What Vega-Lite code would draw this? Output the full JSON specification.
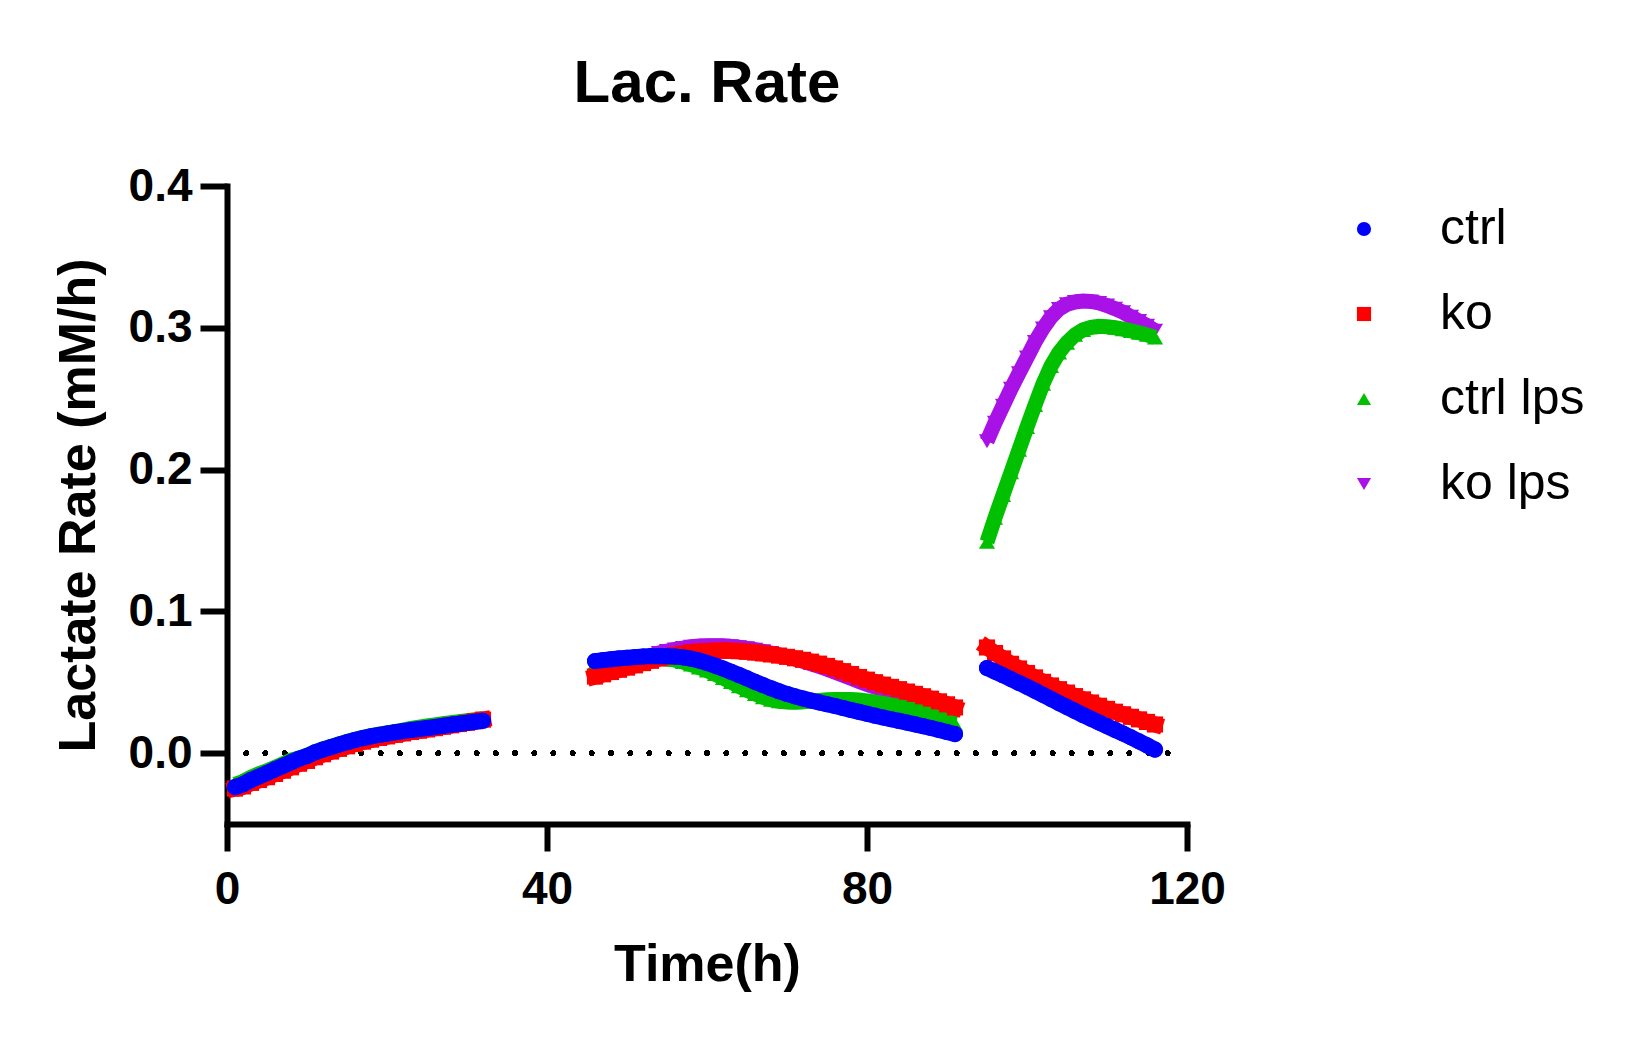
{
"$schema":"https://vega.github.io/schema/vega-lite/v6.json",
"autosize":"none",
"width":960,"height":638,
"padding":{"left":227,"top":186,"right":453,"bottom":214},
"background":"white",
"title":{"text":"Lac. Rate","fontSize":60,"font":"Liberation Sans","fontWeight":"bold","anchor":"middle","frame":"group","baseline":"alphabetic","offset":1,"color":"black"},
"config":{"view":{"stroke":null},"font":"Liberation Sans",
"axis":{"grid":false,"domainColor":"black","tickColor":"black","labelColor":"black","titleColor":"black","domainWidth":6,"tickWidth":6,"tickSize":27,"domainCap":"square","labelFont":"Liberation Sans","labelFontSize":46,"labelFontWeight":"bold","titleFont":"Liberation Sans","titleFontSize":52,"titleFontWeight":"bold","labelOverlap":false,"labelFlush":false},
"legend":{"labelFont":"Liberation Sans","labelFontSize":50,"labelFontWeight":"normal","labelColor":"black","symbolSize":200,"rowPadding":35,"labelOffset":51,"padding":0}},
"data":{"values":[
{"g":"ko lps","s":1,"t":1,"v":-0.0258},{"g":"ko lps","s":1,"t":2,"v":-0.0242},{"g":"ko lps","s":1,"t":3,"v":-0.0217},{"g":"ko lps","s":1,"t":4,"v":-0.0196},{"g":"ko lps","s":1,"t":5,"v":-0.0175},{"g":"ko lps","s":1,"t":6,"v":-0.0152},{"g":"ko lps","s":1,"t":7,"v":-0.0129},{"g":"ko lps","s":1,"t":8,"v":-0.0105},{"g":"ko lps","s":1,"t":9,"v":-0.008},{"g":"ko lps","s":1,"t":10,"v":-0.006},{"g":"ko lps","s":1,"t":11,"v":-0.0034},{"g":"ko lps","s":1,"t":12,"v":-0.0013},{"g":"ko lps","s":1,"t":13,"v":0.0006},{"g":"ko lps","s":1,"t":14,"v":0.0025},{"g":"ko lps","s":1,"t":15,"v":0.0043},{"g":"ko lps","s":1,"t":16,"v":0.006},{"g":"ko lps","s":1,"t":17,"v":0.0076},{"g":"ko lps","s":1,"t":18,"v":0.009},{"g":"ko lps","s":1,"t":19,"v":0.0102},{"g":"ko lps","s":1,"t":20,"v":0.0113},{"g":"ko lps","s":1,"t":21,"v":0.0124},{"g":"ko lps","s":1,"t":22,"v":0.0134},{"g":"ko lps","s":1,"t":23,"v":0.0144},{"g":"ko lps","s":1,"t":24,"v":0.0153},{"g":"ko lps","s":1,"t":25,"v":0.0162},{"g":"ko lps","s":1,"t":26,"v":0.0171},{"g":"ko lps","s":1,"t":27,"v":0.0181},{"g":"ko lps","s":1,"t":28,"v":0.0191},{"g":"ko lps","s":1,"t":29,"v":0.02},{"g":"ko lps","s":1,"t":30,"v":0.0209},{"g":"ko lps","s":1,"t":31,"v":0.022},{"g":"ko lps","s":1,"t":32,"v":0.0231},
{"g":"ko lps","s":2,"t":46,"v":0.053},{"g":"ko lps","s":2,"t":47,"v":0.0554},{"g":"ko lps","s":2,"t":48,"v":0.0577},{"g":"ko lps","s":2,"t":49,"v":0.06},{"g":"ko lps","s":2,"t":50,"v":0.0623},{"g":"ko lps","s":2,"t":51,"v":0.0644},{"g":"ko lps","s":2,"t":52,"v":0.0665},{"g":"ko lps","s":2,"t":53,"v":0.0686},{"g":"ko lps","s":2,"t":54,"v":0.0707},{"g":"ko lps","s":2,"t":55,"v":0.072},{"g":"ko lps","s":2,"t":56,"v":0.0731},{"g":"ko lps","s":2,"t":57,"v":0.0741},{"g":"ko lps","s":2,"t":58,"v":0.075},{"g":"ko lps","s":2,"t":59,"v":0.0756},{"g":"ko lps","s":2,"t":60,"v":0.0758},{"g":"ko lps","s":2,"t":61,"v":0.0758},{"g":"ko lps","s":2,"t":62,"v":0.0758},{"g":"ko lps","s":2,"t":63,"v":0.0753},{"g":"ko lps","s":2,"t":64,"v":0.0747},{"g":"ko lps","s":2,"t":65,"v":0.0739},{"g":"ko lps","s":2,"t":66,"v":0.0729},{"g":"ko lps","s":2,"t":67,"v":0.0718},{"g":"ko lps","s":2,"t":68,"v":0.0706},{"g":"ko lps","s":2,"t":69,"v":0.0693},{"g":"ko lps","s":2,"t":70,"v":0.0679},{"g":"ko lps","s":2,"t":71,"v":0.0664},{"g":"ko lps","s":2,"t":72,"v":0.0648},{"g":"ko lps","s":2,"t":73,"v":0.063},{"g":"ko lps","s":2,"t":74,"v":0.0611},{"g":"ko lps","s":2,"t":75,"v":0.0592},{"g":"ko lps","s":2,"t":76,"v":0.0571},{"g":"ko lps","s":2,"t":77,"v":0.055},{"g":"ko lps","s":2,"t":78,"v":0.0528},{"g":"ko lps","s":2,"t":79,"v":0.0505},{"g":"ko lps","s":2,"t":80,"v":0.0485},{"g":"ko lps","s":2,"t":81,"v":0.0466},{"g":"ko lps","s":2,"t":82,"v":0.0448},{"g":"ko lps","s":2,"t":83,"v":0.0432},{"g":"ko lps","s":2,"t":84,"v":0.0416},{"g":"ko lps","s":2,"t":85,"v":0.0399},{"g":"ko lps","s":2,"t":86,"v":0.0383},{"g":"ko lps","s":2,"t":87,"v":0.0365},{"g":"ko lps","s":2,"t":88,"v":0.0347},{"g":"ko lps","s":2,"t":89,"v":0.0327},{"g":"ko lps","s":2,"t":90,"v":0.0305},{"g":"ko lps","s":2,"t":91,"v":0.0282},
{"g":"ko lps","s":3,"t":95,"v":0.22},{"g":"ko lps","s":3,"t":96,"v":0.233},{"g":"ko lps","s":3,"t":97,"v":0.245},{"g":"ko lps","s":3,"t":98,"v":0.257},{"g":"ko lps","s":3,"t":99,"v":0.268},{"g":"ko lps","s":3,"t":100,"v":0.279},{"g":"ko lps","s":3,"t":101,"v":0.29},{"g":"ko lps","s":3,"t":102,"v":0.2995},{"g":"ko lps","s":3,"t":103,"v":0.3075},{"g":"ko lps","s":3,"t":104,"v":0.3132},{"g":"ko lps","s":3,"t":105,"v":0.3166},{"g":"ko lps","s":3,"t":106,"v":0.3182},{"g":"ko lps","s":3,"t":107,"v":0.3188},{"g":"ko lps","s":3,"t":108,"v":0.3186},{"g":"ko lps","s":3,"t":109,"v":0.3175},{"g":"ko lps","s":3,"t":110,"v":0.3157},{"g":"ko lps","s":3,"t":111,"v":0.3135},{"g":"ko lps","s":3,"t":112,"v":0.311},{"g":"ko lps","s":3,"t":113,"v":0.3078},{"g":"ko lps","s":3,"t":114,"v":0.3048},{"g":"ko lps","s":3,"t":115,"v":0.3015},{"g":"ko lps","s":3,"t":116,"v":0.298},
{"g":"ctrl lps","s":1,"t":1,"v":-0.022},{"g":"ctrl lps","s":1,"t":2,"v":-0.02},{"g":"ctrl lps","s":1,"t":3,"v":-0.017},{"g":"ctrl lps","s":1,"t":4,"v":-0.0145},{"g":"ctrl lps","s":1,"t":5,"v":-0.0125},{"g":"ctrl lps","s":1,"t":6,"v":-0.01},{"g":"ctrl lps","s":1,"t":7,"v":-0.0075},{"g":"ctrl lps","s":1,"t":8,"v":-0.005},{"g":"ctrl lps","s":1,"t":9,"v":-0.0035},{"g":"ctrl lps","s":1,"t":10,"v":-0.0015},{"g":"ctrl lps","s":1,"t":11,"v":0.001},{"g":"ctrl lps","s":1,"t":12,"v":0.003},{"g":"ctrl lps","s":1,"t":13,"v":0.0048},{"g":"ctrl lps","s":1,"t":14,"v":0.0065},{"g":"ctrl lps","s":1,"t":15,"v":0.0082},{"g":"ctrl lps","s":1,"t":16,"v":0.0097},{"g":"ctrl lps","s":1,"t":17,"v":0.0111},{"g":"ctrl lps","s":1,"t":18,"v":0.0123},{"g":"ctrl lps","s":1,"t":19,"v":0.0133},{"g":"ctrl lps","s":1,"t":20,"v":0.0143},{"g":"ctrl lps","s":1,"t":21,"v":0.0152},{"g":"ctrl lps","s":1,"t":22,"v":0.0162},{"g":"ctrl lps","s":1,"t":23,"v":0.0175},{"g":"ctrl lps","s":1,"t":24,"v":0.0183},{"g":"ctrl lps","s":1,"t":25,"v":0.0191},{"g":"ctrl lps","s":1,"t":26,"v":0.0199},{"g":"ctrl lps","s":1,"t":27,"v":0.0207},{"g":"ctrl lps","s":1,"t":28,"v":0.0215},{"g":"ctrl lps","s":1,"t":29,"v":0.0222},{"g":"ctrl lps","s":1,"t":30,"v":0.0229},{"g":"ctrl lps","s":1,"t":31,"v":0.0236},{"g":"ctrl lps","s":1,"t":32,"v":0.0243},
{"g":"ctrl lps","s":2,"t":46,"v":0.063},{"g":"ctrl lps","s":2,"t":47,"v":0.0638},{"g":"ctrl lps","s":2,"t":48,"v":0.0645},{"g":"ctrl lps","s":2,"t":49,"v":0.0652},{"g":"ctrl lps","s":2,"t":50,"v":0.0658},{"g":"ctrl lps","s":2,"t":51,"v":0.0663},{"g":"ctrl lps","s":2,"t":52,"v":0.0667},{"g":"ctrl lps","s":2,"t":53,"v":0.0669},{"g":"ctrl lps","s":2,"t":54,"v":0.0669},{"g":"ctrl lps","s":2,"t":55,"v":0.0665},{"g":"ctrl lps","s":2,"t":56,"v":0.0656},{"g":"ctrl lps","s":2,"t":57,"v":0.0642},{"g":"ctrl lps","s":2,"t":58,"v":0.0624},{"g":"ctrl lps","s":2,"t":59,"v":0.0604},{"g":"ctrl lps","s":2,"t":60,"v":0.0582},{"g":"ctrl lps","s":2,"t":61,"v":0.0557},{"g":"ctrl lps","s":2,"t":62,"v":0.053},{"g":"ctrl lps","s":2,"t":63,"v":0.0501},{"g":"ctrl lps","s":2,"t":64,"v":0.0471},{"g":"ctrl lps","s":2,"t":65,"v":0.0443},{"g":"ctrl lps","s":2,"t":66,"v":0.0417},{"g":"ctrl lps","s":2,"t":67,"v":0.0394},{"g":"ctrl lps","s":2,"t":68,"v":0.0377},{"g":"ctrl lps","s":2,"t":69,"v":0.0366},{"g":"ctrl lps","s":2,"t":70,"v":0.036},{"g":"ctrl lps","s":2,"t":71,"v":0.0359},{"g":"ctrl lps","s":2,"t":72,"v":0.0362},{"g":"ctrl lps","s":2,"t":73,"v":0.0367},{"g":"ctrl lps","s":2,"t":74,"v":0.0372},{"g":"ctrl lps","s":2,"t":75,"v":0.0376},{"g":"ctrl lps","s":2,"t":76,"v":0.0378},{"g":"ctrl lps","s":2,"t":77,"v":0.0379},{"g":"ctrl lps","s":2,"t":78,"v":0.0378},{"g":"ctrl lps","s":2,"t":79,"v":0.0374},{"g":"ctrl lps","s":2,"t":80,"v":0.0368},{"g":"ctrl lps","s":2,"t":81,"v":0.036},{"g":"ctrl lps","s":2,"t":82,"v":0.0351},{"g":"ctrl lps","s":2,"t":83,"v":0.0341},{"g":"ctrl lps","s":2,"t":84,"v":0.033},{"g":"ctrl lps","s":2,"t":85,"v":0.0318},{"g":"ctrl lps","s":2,"t":86,"v":0.0305},{"g":"ctrl lps","s":2,"t":87,"v":0.029},{"g":"ctrl lps","s":2,"t":88,"v":0.0272},{"g":"ctrl lps","s":2,"t":89,"v":0.0252},{"g":"ctrl lps","s":2,"t":90,"v":0.0229},{"g":"ctrl lps","s":2,"t":91,"v":0.0205},
{"g":"ctrl lps","s":3,"t":95,"v":0.149},{"g":"ctrl lps","s":3,"t":96,"v":0.166},{"g":"ctrl lps","s":3,"t":97,"v":0.182},{"g":"ctrl lps","s":3,"t":98,"v":0.198},{"g":"ctrl lps","s":3,"t":99,"v":0.214},{"g":"ctrl lps","s":3,"t":100,"v":0.23},{"g":"ctrl lps","s":3,"t":101,"v":0.2455},{"g":"ctrl lps","s":3,"t":102,"v":0.2605},{"g":"ctrl lps","s":3,"t":103,"v":0.273},{"g":"ctrl lps","s":3,"t":104,"v":0.2825},{"g":"ctrl lps","s":3,"t":105,"v":0.2895},{"g":"ctrl lps","s":3,"t":106,"v":0.295},{"g":"ctrl lps","s":3,"t":107,"v":0.2985},{"g":"ctrl lps","s":3,"t":108,"v":0.3003},{"g":"ctrl lps","s":3,"t":109,"v":0.301},{"g":"ctrl lps","s":3,"t":110,"v":0.3008},{"g":"ctrl lps","s":3,"t":111,"v":0.3},{"g":"ctrl lps","s":3,"t":112,"v":0.299},{"g":"ctrl lps","s":3,"t":113,"v":0.2978},{"g":"ctrl lps","s":3,"t":114,"v":0.2965},{"g":"ctrl lps","s":3,"t":115,"v":0.295},{"g":"ctrl lps","s":3,"t":116,"v":0.2932},
{"g":"ko","s":1,"t":1,"v":-0.025},{"g":"ko","s":1,"t":2,"v":-0.0235},{"g":"ko","s":1,"t":3,"v":-0.021},{"g":"ko","s":1,"t":4,"v":-0.019},{"g":"ko","s":1,"t":5,"v":-0.017},{"g":"ko","s":1,"t":6,"v":-0.0147},{"g":"ko","s":1,"t":7,"v":-0.0124},{"g":"ko","s":1,"t":8,"v":-0.01},{"g":"ko","s":1,"t":9,"v":-0.0075},{"g":"ko","s":1,"t":10,"v":-0.0055},{"g":"ko","s":1,"t":11,"v":-0.0029},{"g":"ko","s":1,"t":12,"v":-0.0008},{"g":"ko","s":1,"t":13,"v":0.0011},{"g":"ko","s":1,"t":14,"v":0.003},{"g":"ko","s":1,"t":15,"v":0.0048},{"g":"ko","s":1,"t":16,"v":0.0065},{"g":"ko","s":1,"t":17,"v":0.0081},{"g":"ko","s":1,"t":18,"v":0.0095},{"g":"ko","s":1,"t":19,"v":0.0107},{"g":"ko","s":1,"t":20,"v":0.0118},{"g":"ko","s":1,"t":21,"v":0.0129},{"g":"ko","s":1,"t":22,"v":0.0139},{"g":"ko","s":1,"t":23,"v":0.0149},{"g":"ko","s":1,"t":24,"v":0.0158},{"g":"ko","s":1,"t":25,"v":0.0167},{"g":"ko","s":1,"t":26,"v":0.0176},{"g":"ko","s":1,"t":27,"v":0.0186},{"g":"ko","s":1,"t":28,"v":0.0196},{"g":"ko","s":1,"t":29,"v":0.0205},{"g":"ko","s":1,"t":30,"v":0.0214},{"g":"ko","s":1,"t":31,"v":0.0225},{"g":"ko","s":1,"t":32,"v":0.0236},
{"g":"ko","s":2,"t":46,"v":0.054},{"g":"ko","s":2,"t":47,"v":0.0556},{"g":"ko","s":2,"t":48,"v":0.0572},{"g":"ko","s":2,"t":49,"v":0.0588},{"g":"ko","s":2,"t":50,"v":0.0603},{"g":"ko","s":2,"t":51,"v":0.0619},{"g":"ko","s":2,"t":52,"v":0.0635},{"g":"ko","s":2,"t":53,"v":0.0651},{"g":"ko","s":2,"t":54,"v":0.0667},{"g":"ko","s":2,"t":55,"v":0.068},{"g":"ko","s":2,"t":56,"v":0.0691},{"g":"ko","s":2,"t":57,"v":0.0701},{"g":"ko","s":2,"t":58,"v":0.071},{"g":"ko","s":2,"t":59,"v":0.0716},{"g":"ko","s":2,"t":60,"v":0.072},{"g":"ko","s":2,"t":61,"v":0.0722},{"g":"ko","s":2,"t":62,"v":0.0723},{"g":"ko","s":2,"t":63,"v":0.0722},{"g":"ko","s":2,"t":64,"v":0.0719},{"g":"ko","s":2,"t":65,"v":0.0715},{"g":"ko","s":2,"t":66,"v":0.0709},{"g":"ko","s":2,"t":67,"v":0.0703},{"g":"ko","s":2,"t":68,"v":0.0696},{"g":"ko","s":2,"t":69,"v":0.0688},{"g":"ko","s":2,"t":70,"v":0.0679},{"g":"ko","s":2,"t":71,"v":0.0669},{"g":"ko","s":2,"t":72,"v":0.0658},{"g":"ko","s":2,"t":73,"v":0.0645},{"g":"ko","s":2,"t":74,"v":0.0631},{"g":"ko","s":2,"t":75,"v":0.0615},{"g":"ko","s":2,"t":76,"v":0.0597},{"g":"ko","s":2,"t":77,"v":0.0578},{"g":"ko","s":2,"t":78,"v":0.0558},{"g":"ko","s":2,"t":79,"v":0.0537},{"g":"ko","s":2,"t":80,"v":0.0518},{"g":"ko","s":2,"t":81,"v":0.05},{"g":"ko","s":2,"t":82,"v":0.0483},{"g":"ko","s":2,"t":83,"v":0.0467},{"g":"ko","s":2,"t":84,"v":0.0451},{"g":"ko","s":2,"t":85,"v":0.0434},{"g":"ko","s":2,"t":86,"v":0.0418},{"g":"ko","s":2,"t":87,"v":0.0401},{"g":"ko","s":2,"t":88,"v":0.0384},{"g":"ko","s":2,"t":89,"v":0.0365},{"g":"ko","s":2,"t":90,"v":0.0344},{"g":"ko","s":2,"t":91,"v":0.0322},
{"g":"ko","s":3,"t":95,"v":0.0745},{"g":"ko","s":3,"t":96,"v":0.0706},{"g":"ko","s":3,"t":97,"v":0.0668},{"g":"ko","s":3,"t":98,"v":0.063},{"g":"ko","s":3,"t":99,"v":0.0597},{"g":"ko","s":3,"t":100,"v":0.0565},{"g":"ko","s":3,"t":101,"v":0.0534},{"g":"ko","s":3,"t":102,"v":0.0503},{"g":"ko","s":3,"t":103,"v":0.0477},{"g":"ko","s":3,"t":104,"v":0.0451},{"g":"ko","s":3,"t":105,"v":0.0427},{"g":"ko","s":3,"t":106,"v":0.0402},{"g":"ko","s":3,"t":107,"v":0.0379},{"g":"ko","s":3,"t":108,"v":0.0357},{"g":"ko","s":3,"t":109,"v":0.0334},{"g":"ko","s":3,"t":110,"v":0.0312},{"g":"ko","s":3,"t":111,"v":0.0292},{"g":"ko","s":3,"t":112,"v":0.0274},{"g":"ko","s":3,"t":113,"v":0.0256},{"g":"ko","s":3,"t":114,"v":0.0238},{"g":"ko","s":3,"t":115,"v":0.022},{"g":"ko","s":3,"t":116,"v":0.0202},
{"g":"ctrl","s":1,"t":1,"v":-0.024},{"g":"ctrl","s":1,"t":2,"v":-0.022},{"g":"ctrl","s":1,"t":3,"v":-0.019},{"g":"ctrl","s":1,"t":4,"v":-0.0165},{"g":"ctrl","s":1,"t":5,"v":-0.014},{"g":"ctrl","s":1,"t":6,"v":-0.0115},{"g":"ctrl","s":1,"t":7,"v":-0.009},{"g":"ctrl","s":1,"t":8,"v":-0.0065},{"g":"ctrl","s":1,"t":9,"v":-0.004},{"g":"ctrl","s":1,"t":10,"v":-0.002},{"g":"ctrl","s":1,"t":11,"v":0.0005},{"g":"ctrl","s":1,"t":12,"v":0.0025},{"g":"ctrl","s":1,"t":13,"v":0.0043},{"g":"ctrl","s":1,"t":14,"v":0.006},{"g":"ctrl","s":1,"t":15,"v":0.0077},{"g":"ctrl","s":1,"t":16,"v":0.0092},{"g":"ctrl","s":1,"t":17,"v":0.0106},{"g":"ctrl","s":1,"t":18,"v":0.0118},{"g":"ctrl","s":1,"t":19,"v":0.0128},{"g":"ctrl","s":1,"t":20,"v":0.0138},{"g":"ctrl","s":1,"t":21,"v":0.0147},{"g":"ctrl","s":1,"t":22,"v":0.0155},{"g":"ctrl","s":1,"t":23,"v":0.0163},{"g":"ctrl","s":1,"t":24,"v":0.017},{"g":"ctrl","s":1,"t":25,"v":0.0177},{"g":"ctrl","s":1,"t":26,"v":0.0184},{"g":"ctrl","s":1,"t":27,"v":0.0192},{"g":"ctrl","s":1,"t":28,"v":0.02},{"g":"ctrl","s":1,"t":29,"v":0.0207},{"g":"ctrl","s":1,"t":30,"v":0.0214},{"g":"ctrl","s":1,"t":31,"v":0.0221},{"g":"ctrl","s":1,"t":32,"v":0.0228},
{"g":"ctrl","s":2,"t":46,"v":0.0649},{"g":"ctrl","s":2,"t":47,"v":0.0656},{"g":"ctrl","s":2,"t":48,"v":0.0662},{"g":"ctrl","s":2,"t":49,"v":0.0668},{"g":"ctrl","s":2,"t":50,"v":0.0673},{"g":"ctrl","s":2,"t":51,"v":0.0677},{"g":"ctrl","s":2,"t":52,"v":0.0681},{"g":"ctrl","s":2,"t":53,"v":0.0684},{"g":"ctrl","s":2,"t":54,"v":0.0685},{"g":"ctrl","s":2,"t":55,"v":0.0684},{"g":"ctrl","s":2,"t":56,"v":0.0681},{"g":"ctrl","s":2,"t":57,"v":0.0675},{"g":"ctrl","s":2,"t":58,"v":0.0666},{"g":"ctrl","s":2,"t":59,"v":0.0653},{"g":"ctrl","s":2,"t":60,"v":0.0636},{"g":"ctrl","s":2,"t":61,"v":0.0617},{"g":"ctrl","s":2,"t":62,"v":0.0596},{"g":"ctrl","s":2,"t":63,"v":0.0574},{"g":"ctrl","s":2,"t":64,"v":0.0551},{"g":"ctrl","s":2,"t":65,"v":0.0527},{"g":"ctrl","s":2,"t":66,"v":0.0503},{"g":"ctrl","s":2,"t":67,"v":0.048},{"g":"ctrl","s":2,"t":68,"v":0.0457},{"g":"ctrl","s":2,"t":69,"v":0.0436},{"g":"ctrl","s":2,"t":70,"v":0.0417},{"g":"ctrl","s":2,"t":71,"v":0.04},{"g":"ctrl","s":2,"t":72,"v":0.0385},{"g":"ctrl","s":2,"t":73,"v":0.0371},{"g":"ctrl","s":2,"t":74,"v":0.0358},{"g":"ctrl","s":2,"t":75,"v":0.0345},{"g":"ctrl","s":2,"t":76,"v":0.0332},{"g":"ctrl","s":2,"t":77,"v":0.0318},{"g":"ctrl","s":2,"t":78,"v":0.0304},{"g":"ctrl","s":2,"t":79,"v":0.0291},{"g":"ctrl","s":2,"t":80,"v":0.0277},{"g":"ctrl","s":2,"t":81,"v":0.0264},{"g":"ctrl","s":2,"t":82,"v":0.0251},{"g":"ctrl","s":2,"t":83,"v":0.0239},{"g":"ctrl","s":2,"t":84,"v":0.0227},{"g":"ctrl","s":2,"t":85,"v":0.0215},{"g":"ctrl","s":2,"t":86,"v":0.0203},{"g":"ctrl","s":2,"t":87,"v":0.019},{"g":"ctrl","s":2,"t":88,"v":0.0177},{"g":"ctrl","s":2,"t":89,"v":0.0163},{"g":"ctrl","s":2,"t":90,"v":0.0149},{"g":"ctrl","s":2,"t":91,"v":0.0134},
{"g":"ctrl","s":3,"t":95,"v":0.06},{"g":"ctrl","s":3,"t":96,"v":0.0575},{"g":"ctrl","s":3,"t":97,"v":0.0549},{"g":"ctrl","s":3,"t":98,"v":0.0522},{"g":"ctrl","s":3,"t":99,"v":0.0495},{"g":"ctrl","s":3,"t":100,"v":0.0468},{"g":"ctrl","s":3,"t":101,"v":0.044},{"g":"ctrl","s":3,"t":102,"v":0.0411},{"g":"ctrl","s":3,"t":103,"v":0.0382},{"g":"ctrl","s":3,"t":104,"v":0.0353},{"g":"ctrl","s":3,"t":105,"v":0.0325},{"g":"ctrl","s":3,"t":106,"v":0.0297},{"g":"ctrl","s":3,"t":107,"v":0.0269},{"g":"ctrl","s":3,"t":108,"v":0.0242},{"g":"ctrl","s":3,"t":109,"v":0.0216},{"g":"ctrl","s":3,"t":110,"v":0.019},{"g":"ctrl","s":3,"t":111,"v":0.0164},{"g":"ctrl","s":3,"t":112,"v":0.0138},{"g":"ctrl","s":3,"t":113,"v":0.0111},{"g":"ctrl","s":3,"t":114,"v":0.0083},{"g":"ctrl","s":3,"t":115,"v":0.0055},{"g":"ctrl","s":3,"t":116,"v":0.0025}
]},
"encoding":{
"x":{"field":"t","type":"quantitative","scale":{"domain":[0,120],"nice":false,"zero":false},"axis":{"values":[0,40,80,120],"labelPadding":16,"title":"Time(h)","titleX":480,"titleY":156,"titleBaseline":"alphabetic","titleAlign":"center","titleAnchor":null}},
"y":{"field":"v","type":"quantitative","scale":{"domain":[-0.05,0.4],"nice":false,"zero":false},"axis":{"values":[0,0.1,0.2,0.3,0.4],"format":".1f","labelPadding":8,"title":"Lactate Rate (mM/h)","titleX":-133,"titleY":319,"titleAngle":-90,"titleBaseline":"alphabetic","titleAlign":"center","titleAnchor":null}}
},
"layer":[
{"mark":{"type":"rule","color":"black","strokeWidth":5,"strokeCap":"round","strokeDash":[0.01,19.19]},"encoding":{"x":{"datum":0},"x2":{"datum":117.7},"y":{"datum":0}}},
{"transform":[{"filter":"datum.g==='ko lps'"}],"layer":[
{"mark":{"type":"line","strokeWidth":15,"strokeCap":"butt","color":"#A812E6"},"encoding":{"detail":{"field":"s"}}},
{"mark":{"type":"point","filled":true,"opacity":1,"size":260},"encoding":{"color":{"field":"g","type":"nominal","scale":{"domain":["ctrl","ko","ctrl lps","ko lps"],"range":["#0000FF","#FF0000","#00C000","#A812E6"]},"legend":{"title":null,"orient":"none","legendX":1112,"legendY":18}},"shape":{"field":"g","type":"nominal","scale":{"domain":["ctrl","ko","ctrl lps","ko lps"],"range":["circle","square","triangle-up","triangle-down"]},"legend":{"title":null,"orient":"none","legendX":1112,"legendY":18}}}}
]},
{"transform":[{"filter":"datum.g==='ctrl lps'"}],"layer":[
{"mark":{"type":"line","strokeWidth":15,"strokeCap":"butt","color":"#00C000"},"encoding":{"detail":{"field":"s"}}},
{"mark":{"type":"point","filled":true,"opacity":1,"size":260},"encoding":{"color":{"field":"g","type":"nominal","scale":{"domain":["ctrl","ko","ctrl lps","ko lps"],"range":["#0000FF","#FF0000","#00C000","#A812E6"]},"legend":{"title":null,"orient":"none","legendX":1112,"legendY":18}},"shape":{"field":"g","type":"nominal","scale":{"domain":["ctrl","ko","ctrl lps","ko lps"],"range":["circle","square","triangle-up","triangle-down"]},"legend":{"title":null,"orient":"none","legendX":1112,"legendY":18}}}}
]},
{"transform":[{"filter":"datum.g==='ko'"}],"layer":[
{"mark":{"type":"line","strokeWidth":16,"strokeCap":"square","color":"#FF0000"},"encoding":{"detail":{"field":"s"}}},
{"mark":{"type":"point","filled":true,"opacity":1,"size":260},"encoding":{"color":{"field":"g","type":"nominal","scale":{"domain":["ctrl","ko","ctrl lps","ko lps"],"range":["#0000FF","#FF0000","#00C000","#A812E6"]},"legend":{"title":null,"orient":"none","legendX":1112,"legendY":18}},"shape":{"field":"g","type":"nominal","scale":{"domain":["ctrl","ko","ctrl lps","ko lps"],"range":["circle","square","triangle-up","triangle-down"]},"legend":{"title":null,"orient":"none","legendX":1112,"legendY":18}}}}
]},
{"transform":[{"filter":"datum.g==='ctrl'"}],"layer":[
{"mark":{"type":"line","strokeWidth":16,"strokeCap":"round","color":"#0000FF"},"encoding":{"detail":{"field":"s"}}},
{"mark":{"type":"point","filled":true,"opacity":1,"size":260},"encoding":{"color":{"field":"g","type":"nominal","scale":{"domain":["ctrl","ko","ctrl lps","ko lps"],"range":["#0000FF","#FF0000","#00C000","#A812E6"]},"legend":{"title":null,"orient":"none","legendX":1112,"legendY":18}},"shape":{"field":"g","type":"nominal","scale":{"domain":["ctrl","ko","ctrl lps","ko lps"],"range":["circle","square","triangle-up","triangle-down"]},"legend":{"title":null,"orient":"none","legendX":1112,"legendY":18}}}}
]}
]
}
